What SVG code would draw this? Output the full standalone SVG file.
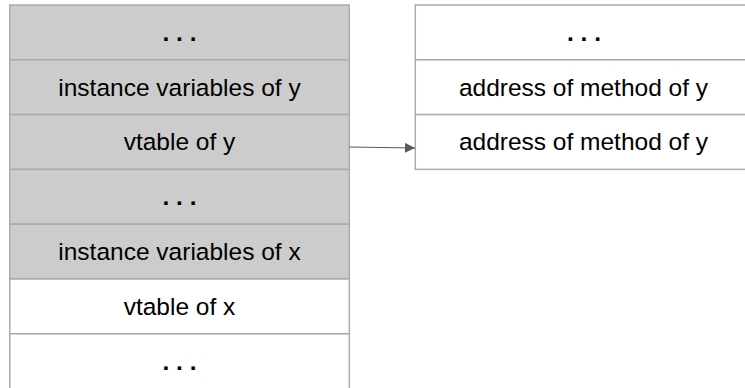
<svg xmlns="http://www.w3.org/2000/svg" width="745" height="388" viewBox="0 0 745 388">
  <defs>
    <style>
      .cell { stroke: #ababab; stroke-width: 1.5; }
      .shaded { fill: #cccccc; }
      .plain { fill: #ffffff; }
      .label { font-family: "Liberation Sans", Arial, Helvetica, sans-serif; font-size: 24.5px; fill: #000000; text-anchor: middle; }
      .dots { font-weight: bold; }
      .link { stroke: #595959; stroke-width: 1.2; fill: none; }
    </style>
    <marker id="arrowhead" markerWidth="10" markerHeight="10" refX="10" refY="5" orient="auto" markerUnits="userSpaceOnUse">
      <path d="M0,0 L10,5 L0,10 Z" fill="#595959"/>
    </marker>
  </defs>
  <rect width="745" height="388" fill="#ffffff"/>

  <!-- stack memory column -->
  <g id="stack-top-ellipsis">
    <rect class="cell shaded" x="9.8" y="5" width="339.5" height="54.8"/>
    <text class="label dots" x="179.5" y="40.8">. . .</text>
  </g>
  <g id="y-instance-variables">
    <rect class="cell shaded" x="9.8" y="59.8" width="339.5" height="54.8"/>
    <text class="label" x="179.5" y="95.6">instance variables of y</text>
  </g>
  <g id="y-vtable">
    <rect class="cell shaded" x="9.8" y="114.6" width="339.5" height="54.8"/>
    <text class="label" x="179.5" y="150.4">vtable of y</text>
  </g>
  <g id="stack-mid-ellipsis">
    <rect class="cell shaded" x="9.8" y="169.4" width="339.5" height="54.8"/>
    <text class="label dots" x="179.5" y="205.2">. . .</text>
  </g>
  <g id="x-instance-variables">
    <rect class="cell shaded" x="9.8" y="224.2" width="339.5" height="54.8"/>
    <text class="label" x="179.5" y="260">instance variables of x</text>
  </g>
  <g id="x-vtable">
    <rect class="cell plain" x="9.8" y="279" width="339.5" height="54.8"/>
    <text class="label" x="179.5" y="314.8">vtable of x</text>
  </g>
  <g id="stack-bottom-ellipsis">
    <rect class="cell plain" x="9.8" y="333.8" width="339.5" height="70"/>
    <text class="label dots" x="179.5" y="369.6">. . .</text>
  </g>

  <!-- method table of y -->
  <g id="table-ellipsis">
    <rect class="cell plain" x="415.3" y="5" width="337" height="54.8"/>
    <text class="label dots" x="584" y="40.8">. . .</text>
  </g>
  <g id="table-method-1">
    <rect class="cell plain" x="415.3" y="59.8" width="337" height="54.8"/>
    <text class="label" x="583.5" y="95.6">address of method of y</text>
  </g>
  <g id="table-method-2">
    <rect class="cell plain" x="415.3" y="114.6" width="337" height="54.8"/>
    <text class="label" x="583.5" y="150.4">address of method of y</text>
  </g>

  <g id="connectors">
    <line class="link" x1="349.5" y1="147" x2="415" y2="148" marker-end="url(#arrowhead)"/>
  </g>
</svg>
